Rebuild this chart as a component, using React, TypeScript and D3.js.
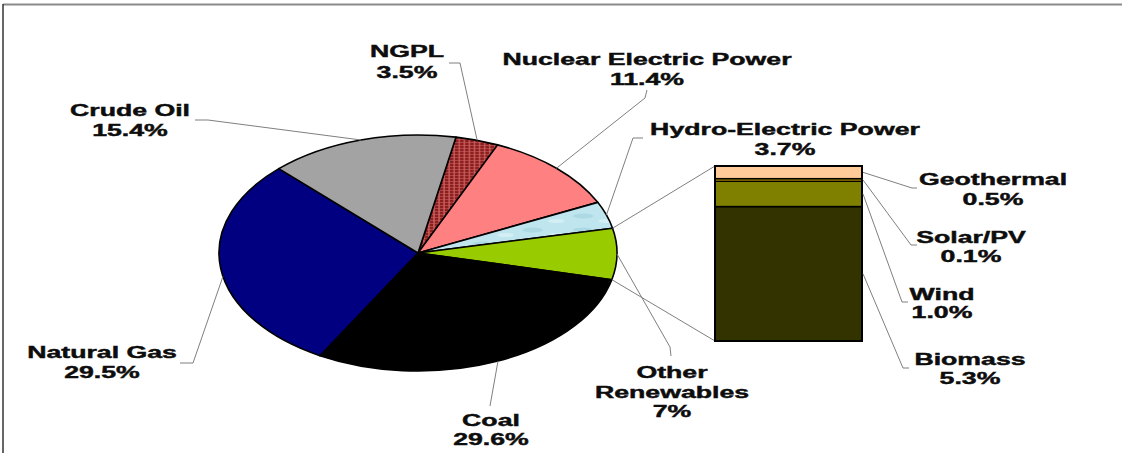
import React from "react";
import * as d3 from "d3";

// ---- data ----
const pieNames = ["NGPL", "Nuclear Electric Power", "Hydro-Electric Power", "Other Renewables", "Coal", "Natural Gas", "Crude Oil"];
const pieValues = [3.5, 11.4, 3.7, 7, 29.6, 29.5, 15.4];
const pieValueText = ["3.5%", "11.4%", "3.7%", "7%", "29.6%", "29.5%", "15.4%"];

const renewNames = ["Biomass", "Wind", "Solar/PV", "Geothermal"];
const renewValues = [5.3, 1.0, 0.1, 0.5];
const renewValueText = ["5.3%", "1.0%", "0.1%", "0.5%"];

// ---- styles ----
const pieFills: Record<string, string> = {
  "NGPL": "url(#ngplPat)",
  "Nuclear Electric Power": "#ff8080",
  "Hydro-Electric Power": "url(#hydroPat)",
  "Other Renewables": "#99cc00",
  "Coal": "#000000",
  "Natural Gas": "#000080",
  "Crude Oil": "#a3a3a3",
};
const renewFills: Record<string, string> = {
  "Biomass": "#333300",
  "Wind": "#808000",
  "Solar/PV": "#ffcc00",
  "Geothermal": "#ffcc99",
};

// ---- layout ----
const W = 1122, H = 453;
const CX = 418, CY = 253, RX = 199, RY = 118;
const START = (11 * Math.PI) / 180;
const BAR = { x0: 715, x1: 862, top: 166, bottom: 341 };
const FONT = 17, SX = 1.57, LH = 20;

type Lab = { x: number; y: number; lh?: number; lines: string[]; path: [number, number][]; angleShift?: number };
const pieLabelLayout: Record<string, Lab> = {
  "NGPL": { x: 407, y: 57, lh: 21, lines: ["NGPL"], path: [[449, 63], [460, 63]] },
  "Nuclear Electric Power": { x: 647, y: 65, lines: ["Nuclear Electric Power"], path: [[647, 90], [645, 98]] },
  "Hydro-Electric Power": { x: 785, y: 135, lines: ["Hydro-Electric Power"], path: [[643, 138], [633, 138]] },
  "Other Renewables": { x: 672, y: 378, lh: 19.5, lines: ["Other", "Renewables"], path: [[671, 356], [670, 347]] },
  "Coal": { x: 491, y: 426, lh: 19, lines: ["Coal"], path: [[490, 406]] },
  "Natural Gas": { x: 102, y: 358, lines: ["Natural Gas"], path: [[180, 363], [193, 363]], angleShift: -0.07 },
  "Crude Oil": { x: 130, y: 116, lines: ["Crude Oil"], path: [[195, 120], [208, 120]] },
};
const renewLabelLayout: Record<string, Lab> = {
  "Geothermal": { x: 993, y: 185, lines: ["Geothermal"], path: [[917, 188], [912, 188]] },
  "Solar/PV": { x: 971, y: 243, lh: 19, lines: ["Solar/PV"], path: [[917, 245], [911, 245]] },
  "Wind": { x: 942, y: 300, lh: 18, lines: ["Wind"], path: [[908, 302], [902, 302]] },
  "Biomass": { x: 970, y: 365, lh: 19, lines: ["Biomass"], path: [[909, 368], [903, 368]] },
};

const LEADER = "#7f7f7f";

function ellPoint(a: number): [number, number] {
  return [CX + RX * Math.sin(a), CY - RY * Math.cos(a)];
}

function Label({ lab, extra }: { lab: Lab; extra: string }) {
  const lines = [...lab.lines, extra];
  const lh = lab.lh ?? LH;
  return (
    <g>
      {lines.map((t, i) => (
        <text
          key={i}
          transform={`translate(${lab.x},${lab.y + i * lh}) scale(${SX},1)`}
          textAnchor="middle"
          fontFamily="'Liberation Sans', Arial, sans-serif"
          fontWeight="bold"
          fontSize={FONT}
          fill="#0d0d0d"
          stroke="#0d0d0d"
          strokeWidth={0.45}
        >
          {t}
        </text>
      ))}
    </g>
  );
}

export default function App() {
  const pie = d3
    .pie<number>()
    .sort(null)
    .startAngle(START)
    .endAngle(START + Math.PI * 2)(pieValues);
  const arc = d3.arc<d3.PieArcDatum<number>>().innerRadius(0).outerRadius(RY);

  const total = d3.sum(renewValues);
  const y = d3.scaleLinear().domain([0, total]).range([BAR.bottom, BAR.top]);
  const stackEnds = d3.cumsum(renewValues);

  const line = d3.line();
  const otherIdx = pieNames.indexOf("Other Renewables");
  const other = pie[otherIdx];

  return (
    <svg width={W} height={H} style={{ position: "absolute", left: 0, top: 0, background: "#fff" }}>
      <defs>
        <pattern id="ngplPat" width={3} height={3} patternUnits="userSpaceOnUse">
          <rect width={3} height={3} fill="#8e1f1f" />
          <path d="M0,0.5H3M0.5,0V3" stroke="#d06868" strokeWidth={0.7} />
        </pattern>
        <pattern id="hydroPat" width={30} height={14} patternUnits="userSpaceOnUse">
          <rect width={30} height={14} fill="#bfe6ee" />
          <ellipse cx={8} cy={5} rx={6} ry={2.5} fill="#acd9e3" />
          <ellipse cx={22} cy={10} rx={5} ry={2} fill="#d3eff4" />
        </pattern>
      </defs>
      <rect width={W} height={H} fill="#fff" />
      {/* frame */}
      <line x1={3} x2={W} y1={4.5} y2={4.5} stroke="#8a8a8a" strokeWidth={2} />
      <line x1={3} x2={3} y1={4} y2={H} stroke="#333" strokeWidth={1.5} />

      {/* pie */}
      <g transform={`translate(${CX},${CY}) scale(${RX / RY},1)`}>
        {pie.map((d, i) => (
          <path
            key={i}
            d={arc(d) as string}
            fill={pieFills[pieNames[i]]}
            stroke="#000"
            strokeWidth={1.6}
            vectorEffect="non-scaling-stroke"
            strokeLinejoin="round"
          />
        ))}
      </g>

      {/* pie leaders */}
      {pie.map((d, i) => {
        const lab = pieLabelLayout[pieNames[i]];
        const mid = (d.startAngle + d.endAngle) / 2 + (lab.angleShift ?? 0);
        const pts = [...lab.path, ellPoint(mid)] as [number, number][];
        return <path key={i} d={line(pts) as string} fill="none" stroke={LEADER} strokeWidth={1} />;
      })}

      {/* connection from Other Renewables to bar */}
      <line x1={ellPoint(other.startAngle)[0]} y1={ellPoint(other.startAngle)[1]} x2={BAR.x0} y2={y(total)} stroke={LEADER} strokeWidth={1} />
      <line x1={ellPoint(other.endAngle)[0]} y1={ellPoint(other.endAngle)[1]} x2={BAR.x0} y2={y(0)} stroke={LEADER} strokeWidth={1} />

      {/* stacked bar */}
      {renewValues.map((v, i) => {
        const y0 = y(stackEnds[i] - v);
        const y1 = y(stackEnds[i]);
        return (
          <rect
            key={i}
            x={BAR.x0}
            y={y1}
            width={BAR.x1 - BAR.x0}
            height={y0 - y1}
            fill={renewFills[renewNames[i]]}
            stroke="#000"
            strokeWidth={1.5}
          />
        );
      })}
      <rect x={BAR.x0} y={y(total)} width={BAR.x1 - BAR.x0} height={y(0) - y(total)} fill="none" stroke="#000" strokeWidth={2} />

      {/* bar leaders */}
      {renewValues.map((v, i) => {
        const lab = renewLabelLayout[renewNames[i]];
        const midY = y(stackEnds[i] - v / 2);
        const pts = [[BAR.x1 + 1, midY], ...lab.path.slice().reverse()] as [number, number][];
        return <path key={i} d={line(pts) as string} fill="none" stroke={LEADER} strokeWidth={1} />;
      })}

      {/* labels */}
      {pieNames.map((n, i) => (
        <Label key={n} lab={pieLabelLayout[n]} extra={pieValueText[i]} />
      ))}
      {renewNames.map((n, i) => (
        <Label key={n} lab={renewLabelLayout[n]} extra={renewValueText[i]} />
      ))}
    </svg>
  );
}
